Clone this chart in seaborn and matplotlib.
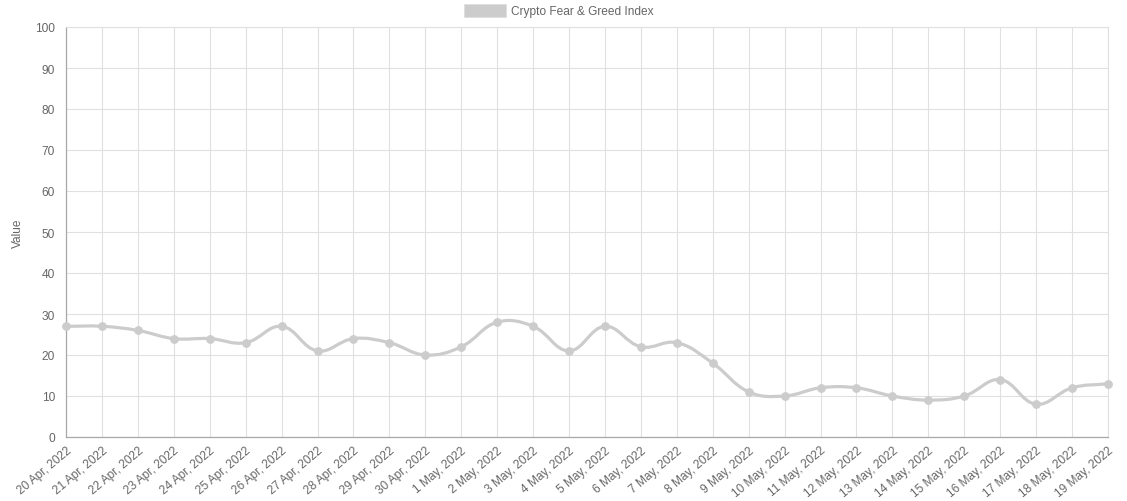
import numpy as np
import pandas as pd
import matplotlib
matplotlib.use("Agg")
import matplotlib.pyplot as plt
from matplotlib.path import Path
from matplotlib.patches import PathPatch, Rectangle
import seaborn as sns

# data
dates = ["20 Apr, 2022", "21 Apr, 2022", "22 Apr, 2022", "23 Apr, 2022", "24 Apr, 2022",
         "25 Apr, 2022", "26 Apr, 2022", "27 Apr, 2022", "28 Apr, 2022", "29 Apr, 2022",
         "30 Apr, 2022", "1 May, 2022", "2 May, 2022", "3 May, 2022", "4 May, 2022",
         "5 May, 2022", "6 May, 2022", "7 May, 2022", "8 May, 2022", "9 May, 2022",
         "10 May, 2022", "11 May, 2022", "12 May, 2022", "13 May, 2022", "14 May, 2022",
         "15 May, 2022", "16 May, 2022", "17 May, 2022", "18 May, 2022", "19 May, 2022"]
values = [27, 27, 26, 24, 24, 23, 27, 21, 24, 23,
          20, 22, 28, 27, 21, 27, 22, 23, 18, 11,
          10, 12, 12, 10, 9, 10, 14, 8, 12, 13]
series_name = "Crypto Fear & Greed Index"
y_ticks = list(range(0, 101, 10))

df = pd.DataFrame({"idx": np.arange(len(dates)), "value": values})

sns.set_style("white")
plt.rcParams["font.family"] = ["Liberation Sans", "DejaVu Sans"]

line_col = "#cccccc"
text_col = "#666666"
grid_col = "#e0e0e0"

fig = plt.figure(figsize=(11.27, 5.02), dpi=100)
ax = fig.add_axes([66 / 1127, 1 - 438 / 502, (1108 - 66) / 1127, (438 - 28) / 502])
ax.set_xlim(0, len(dates) - 1)
ax.set_ylim(0, 100)

# smooth line like chart.js (tension 0.4), control points computed in pixel space
pts = ax.transData.transform(np.column_stack([df["idx"], df["value"]]))
t = 0.4
n = len(pts)
cps = []
for i in range(n):
    prev = pts[max(i - 1, 0)]
    cur = pts[i]
    nxt = pts[min(i + 1, n - 1)]
    d01 = np.hypot(*(cur - prev))
    d12 = np.hypot(*(nxt - cur))
    tot = d01 + d12
    s01 = d01 / tot if tot else 0
    s12 = d12 / tot if tot else 0
    cps.append((cur - t * s01 * (nxt - prev), cur + t * s12 * (nxt - prev)))
verts = [pts[0]]
codes = [Path.MOVETO]
for i in range(1, n):
    verts += [cps[i - 1][1], cps[i][0], pts[i]]
    codes += [Path.CURVE4] * 3
verts = ax.transData.inverted().transform(np.array(verts))
ax.add_patch(PathPatch(Path(verts, codes), facecolor="none", edgecolor=line_col,
                       lw=2.3, zorder=3, capstyle="round", joinstyle="round"))

sns.scatterplot(data=df, x="idx", y="value", color=line_col, s=30, edgecolor=line_col,
                linewidth=0.8, zorder=4, legend=False, ax=ax, clip_on=False)

ax.set_xticks(df["idx"])
ax.set_xticklabels(dates, rotation=40, ha="right", rotation_mode="anchor")
ax.set_yticks(y_ticks)
ax.grid(True, color=grid_col, lw=0.8)
ax.set_axisbelow(True)
ax.tick_params(axis="both", colors=grid_col, labelcolor=text_col, labelsize=8.6,
               width=0.8)
ax.tick_params(axis="x", length=4, pad=1)
ax.tick_params(axis="y", length=6, pad=2)
for side in ["top", "right"]:
    ax.spines[side].set_color(grid_col)
    ax.spines[side].set_linewidth(0.8)
for side in ["left", "bottom"]:
    ax.spines[side].set_color("#a8a8a8")
    ax.spines[side].set_linewidth(0.9)
ax.set_xlabel("")
ax.set_ylabel("Value", color=text_col, fontsize=8.6, labelpad=8)

# legend box at top
fig.patches.append(Rectangle((464 / 1127, 1 - 18 / 502), 42 / 1127, 13 / 502,
                             transform=fig.transFigure, facecolor=line_col,
                             edgecolor="#dddddd", lw=0.5))
fig.text(511 / 1127, 1 - 11.5 / 502, series_name, color=text_col, fontsize=8.6,
         va="center", ha="left")

fig.savefig("out.png", dpi=100)
